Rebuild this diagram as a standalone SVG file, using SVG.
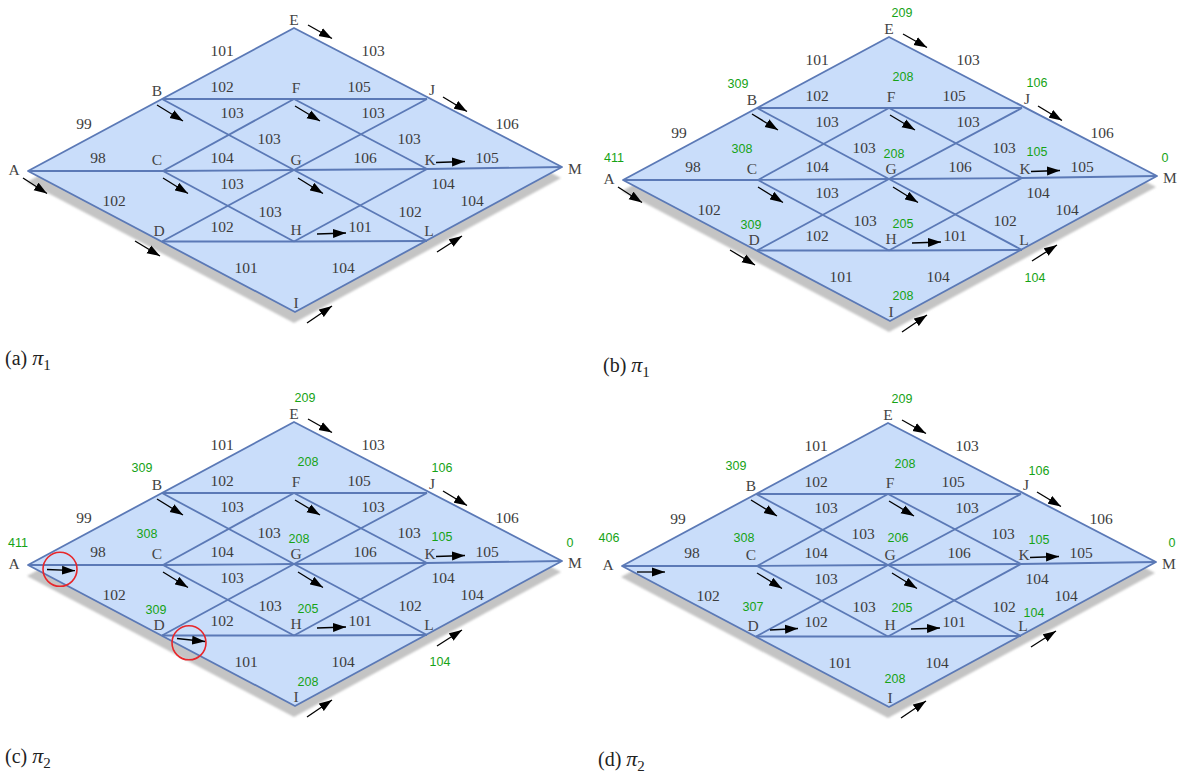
<svg xmlns="http://www.w3.org/2000/svg" xmlns:xlink="http://www.w3.org/1999/xlink" width="1184" height="778" viewBox="0 0 1184 778">
<defs>
<style>
.face{fill:#c9ddfa;stroke:#5b79b6;stroke-width:1.8;stroke-linejoin:round}
.edge path{fill:none;stroke:#5b79b6;stroke-width:1.8}
.shadow{fill:#c4c4c4}
.w{font-family:"Liberation Serif","Times New Roman",serif;font-size:15.5px;fill:#3c3c3c;text-anchor:middle}
.lbl{font-family:"Liberation Serif","Times New Roman",serif;font-size:15.5px;fill:#444;text-anchor:middle}
.pot{font-family:"Liberation Sans",Arial,sans-serif;font-size:12.5px;fill:#16a316;text-anchor:middle}
.arr path{stroke:#000;stroke-width:1.3;fill:none;marker-end:url(#ah)}
.ring{fill:none;stroke:#e8262a;stroke-width:1.6}
.cap{font-family:"Liberation Serif","Times New Roman",serif;font-size:20px;fill:#222}
.cap .pi{font-style:italic;font-size:22px}
.cap .sub{font-size:15px}
</style>
<marker id="ah" markerUnits="userSpaceOnUse" markerWidth="14" markerHeight="10" refX="13" refY="5" orient="auto">
  <path d="M0,0.5 L13,5 L0,9.5 z" fill="#000"/>
</marker>
<filter id="soft" x="-5%" y="-5%" width="110%" height="110%">
  <feGaussianBlur stdDeviation="1.2"/>
</filter>
<!-- shared board: drop shadow, rhombus face, grid edges and edge weights -->
<g id="plate">
  <polygon class="shadow" filter="url(#soft)" points="27,182 293,39 561,178 294,323"/>
  <polygon class="face" points="28,171 294,28 562,167 295,312"/>
  <g class="edge">
    <path d="M162,99 L294,99 L427,99"/>
    <path d="M28,171 L163,171 L294,170 L427,169 L562,167"/>
    <path d="M162,241.5 L294,241.5 L427,241"/>
    <path d="M162,99 L294,170 L427,241"/>
    <path d="M162,241.5 L294,170 L427,99"/>
    <path d="M163,171 L294,99"/>
    <path d="M163,171 L294,241.5"/>
    <path d="M294,99 L427,169"/>
    <path d="M294,241.5 L427,169"/>
  </g>
  <g class="w">
    <text x="222" y="56">101</text>
    <text x="373" y="56">103</text>
    <text x="222" y="92">102</text>
    <text x="359" y="92">105</text>
    <text x="84" y="129">99</text>
    <text x="232" y="118">103</text>
    <text x="373" y="118">103</text>
    <text x="269" y="144">103</text>
    <text x="409" y="144">103</text>
    <text x="507" y="129">106</text>
    <text x="98" y="163">98</text>
    <text x="222" y="163">104</text>
    <text x="365" y="163">106</text>
    <text x="487" y="163">105</text>
    <text x="232" y="189">103</text>
    <text x="443" y="189">104</text>
    <text x="114" y="206">102</text>
    <text x="270" y="217">103</text>
    <text x="472" y="206">104</text>
    <text x="222" y="232">102</text>
    <text x="360" y="232">101</text>
    <text x="410" y="217">102</text>
    <text x="246" y="273">101</text>
    <text x="343" y="273">104</text>
  </g>
</g>
</defs>

<rect width="1184" height="778" fill="#fff"/>

<!-- (a) pi_1 -->
<g id="panel-a">
  <use xlink:href="#plate" href="#plate"/>
  <g id="a-nodes">
    <g id="a-E"><text class="lbl" x="294" y="25">E</text></g>
    <g id="a-B"><text class="lbl" x="157" y="96">B</text></g>
    <g id="a-F"><text class="lbl" x="296" y="93">F</text></g>
    <g id="a-J"><text class="lbl" x="432" y="95">J</text></g>
    <g id="a-A"><text class="lbl" x="14" y="175">A</text></g>
    <g id="a-C"><text class="lbl" x="157" y="165">C</text></g>
    <g id="a-G"><text class="lbl" x="296" y="165">G</text></g>
    <g id="a-K"><text class="lbl" x="430" y="165">K</text></g>
    <g id="a-M"><text class="lbl" x="575" y="174">M</text></g>
    <g id="a-D"><text class="lbl" x="159" y="236">D</text></g>
    <g id="a-H"><text class="lbl" x="296" y="235">H</text></g>
    <g id="a-L"><text class="lbl" x="429" y="236">L</text></g>
    <g id="a-I"><text class="lbl" x="296" y="308">I</text></g>
  </g>
  <g id="a-arrows" class="arr">
    <path d="M308,25 L332,38.5"/>
    <path d="M443,97 L467,111.5"/>
    <path d="M157,105 L183,121"/>
    <path d="M163,178 L188,193.5"/>
    <path d="M23,178 L47,193.5"/>
    <path d="M295,106 L320,121"/>
    <path d="M298,178 L323,193.5"/>
    <path d="M436,162.5 L465,161.5"/>
    <path d="M317,234 L346,233"/>
    <path d="M135,241 L160,256"/>
    <path d="M437,252 L462,236"/>
    <path d="M307,323 L332,306"/>
  </g>
</g>

<!-- (b) pi_1 with node values -->
<g id="panel-b" transform="translate(595,9)">
  <use xlink:href="#plate" href="#plate"/>
  <g id="b-nodes">
    <g id="b-E"><text class="lbl" x="294" y="25">E</text><text class="pot" x="307" y="7.5">209</text></g>
    <g id="b-B"><text class="lbl" x="157" y="96">B</text><text class="pot" x="143" y="78.5">309</text></g>
    <g id="b-F"><text class="lbl" x="296" y="93">F</text><text class="pot" x="308" y="71.5">208</text></g>
    <g id="b-J"><text class="lbl" x="432" y="95">J</text><text class="pot" x="442" y="77.5">106</text></g>
    <g id="b-A"><text class="lbl" x="14" y="175">A</text><text class="pot" x="19" y="152.5">411</text></g>
    <g id="b-C"><text class="lbl" x="157" y="165">C</text><text class="pot" x="147" y="143.5">308</text></g>
    <g id="b-G"><text class="lbl" x="296" y="165">G</text><text class="pot" x="299" y="148.5">208</text></g>
    <g id="b-K"><text class="lbl" x="430" y="165">K</text><text class="pot" x="442" y="146.5">105</text></g>
    <g id="b-M"><text class="lbl" x="575" y="174">M</text><text class="pot" x="570" y="152.5">0</text></g>
    <g id="b-D"><text class="lbl" x="159" y="236">D</text><text class="pot" x="156" y="220">309</text></g>
    <g id="b-H"><text class="lbl" x="296" y="235">H</text><text class="pot" x="308" y="218.5">205</text></g>
    <g id="b-L"><text class="lbl" x="429" y="236">L</text><text class="pot" x="440" y="272.5">104</text></g>
    <g id="b-I"><text class="lbl" x="296" y="308">I</text><text class="pot" x="308" y="290.5">208</text></g>
  </g>
  <g id="b-arrows" class="arr">
    <path d="M308,25 L332,38.5"/>
    <path d="M443,97 L467,111.5"/>
    <path d="M157,105 L183,121"/>
    <path d="M163,178 L188,193.5"/>
    <path d="M23,178 L47,193.5"/>
    <path d="M295,106 L320,121"/>
    <path d="M298,178 L323,193.5"/>
    <path d="M436,162.5 L465,161.5"/>
    <path d="M317,234 L346,233"/>
    <path d="M135,241 L160,256"/>
    <path d="M437,252 L462,236"/>
    <path d="M307,323 L332,306"/>
  </g>
</g>

<!-- (c) pi_2 with changed moves circled -->
<g id="panel-c" transform="translate(0,394)">
  <use xlink:href="#plate" href="#plate"/>
  <g id="c-nodes">
    <g id="c-E"><text class="lbl" x="294" y="25">E</text><text class="pot" x="305" y="7.5">209</text></g>
    <g id="c-B"><text class="lbl" x="157" y="96">B</text><text class="pot" x="142" y="77.5">309</text></g>
    <g id="c-F"><text class="lbl" x="296" y="93">F</text><text class="pot" x="308" y="71.5">208</text></g>
    <g id="c-J"><text class="lbl" x="432" y="95">J</text><text class="pot" x="442" y="77.5">106</text></g>
    <g id="c-A"><text class="lbl" x="14" y="175">A</text><text class="pot" x="18" y="152.5">411</text></g>
    <g id="c-C"><text class="lbl" x="157" y="165">C</text><text class="pot" x="147" y="143.5">308</text></g>
    <g id="c-G"><text class="lbl" x="296" y="165">G</text><text class="pot" x="299" y="148.5">208</text></g>
    <g id="c-K"><text class="lbl" x="430" y="165">K</text><text class="pot" x="442" y="146.5">105</text></g>
    <g id="c-M"><text class="lbl" x="575" y="174">M</text><text class="pot" x="570" y="152.5">0</text></g>
    <g id="c-D"><text class="lbl" x="159" y="236">D</text><text class="pot" x="156" y="220">309</text></g>
    <g id="c-H"><text class="lbl" x="296" y="235">H</text><text class="pot" x="308" y="218.5">205</text></g>
    <g id="c-L"><text class="lbl" x="429" y="236">L</text><text class="pot" x="440" y="271.5">104</text></g>
    <g id="c-I"><text class="lbl" x="296" y="308">I</text><text class="pot" x="308" y="291.5">208</text></g>
  </g>
  <g id="c-arrows" class="arr">
    <path d="M308,25 L332,38.5"/>
    <path d="M443,97 L467,111.5"/>
    <path d="M157,105 L183,121"/>
    <path d="M163,178 L188,193.5"/>
    <path d="M47,175.5 L75,176.7"/>
    <path d="M295,106 L320,121"/>
    <path d="M298,178 L323,193.5"/>
    <path d="M436,162.5 L465,161.5"/>
    <path d="M317,234 L346,233"/>
    <path d="M177,244.5 L205,247.5"/>
    <path d="M437,252 L462,236"/>
    <path d="M307,323 L332,306"/>
  </g>
  <g id="c-marks">
    <circle class="ring" cx="60" cy="175.3" r="17"/>
    <circle class="ring" cx="189" cy="248.8" r="17"/>
  </g>
</g>

<!-- (d) pi_2 with updated node values -->
<g id="panel-d" transform="translate(594,395)">
  <use xlink:href="#plate" href="#plate"/>
  <g id="d-nodes">
    <g id="d-E"><text class="lbl" x="294" y="25">E</text><text class="pot" x="308" y="7.5">209</text></g>
    <g id="d-B"><text class="lbl" x="157" y="96">B</text><text class="pot" x="142" y="74.5">309</text></g>
    <g id="d-F"><text class="lbl" x="296" y="93">F</text><text class="pot" x="311" y="72.5">208</text></g>
    <g id="d-J"><text class="lbl" x="432" y="95">J</text><text class="pot" x="445" y="79.5">106</text></g>
    <g id="d-A"><text class="lbl" x="14" y="175">A</text><text class="pot" x="15" y="146.5">406</text></g>
    <g id="d-C"><text class="lbl" x="157" y="165">C</text><text class="pot" x="150" y="146.5">308</text></g>
    <g id="d-G"><text class="lbl" x="296" y="165">G</text><text class="pot" x="304" y="146.5">206</text></g>
    <g id="d-K"><text class="lbl" x="430" y="165">K</text><text class="pot" x="445" y="148.5">105</text></g>
    <g id="d-M"><text class="lbl" x="575" y="174">M</text><text class="pot" x="578" y="151.5">0</text></g>
    <g id="d-D"><text class="lbl" x="159" y="236">D</text><text class="pot" x="159" y="216">307</text></g>
    <g id="d-H"><text class="lbl" x="296" y="235">H</text><text class="pot" x="308" y="216.5">205</text></g>
    <g id="d-L"><text class="lbl" x="429" y="236">L</text><text class="pot" x="440" y="221.5">104</text></g>
    <g id="d-I"><text class="lbl" x="296" y="308">I</text><text class="pot" x="301" y="287.5">208</text></g>
  </g>
  <g id="d-arrows" class="arr">
    <path d="M308,25 L332,38.5"/>
    <path d="M443,97 L467,111.5"/>
    <path d="M157,105 L183,121"/>
    <path d="M163,178 L188,193.5"/>
    <path d="M43,177 L71,177"/>
    <path d="M295,106 L320,121"/>
    <path d="M298,178 L323,193.5"/>
    <path d="M436,162.5 L465,161.5"/>
    <path d="M317,234 L346,233"/>
    <path d="M176,235 L204,233.5"/>
    <path d="M437,252 L462,236"/>
    <path d="M307,323 L332,306"/>
  </g>
</g>

<!-- sub-figure captions -->
<g id="captions" class="cap">
  <text x="5" y="365">(a) <tspan class="pi">π</tspan><tspan class="sub" dy="5">1</tspan></text>
  <text x="603" y="372">(b) <tspan class="pi">π</tspan><tspan class="sub" dy="5">1</tspan></text>
  <text x="5" y="763">(c) <tspan class="pi">π</tspan><tspan class="sub" dy="5">2</tspan></text>
  <text x="598" y="766">(d) <tspan class="pi">π</tspan><tspan class="sub" dy="5">2</tspan></text>
</g>
</svg>
